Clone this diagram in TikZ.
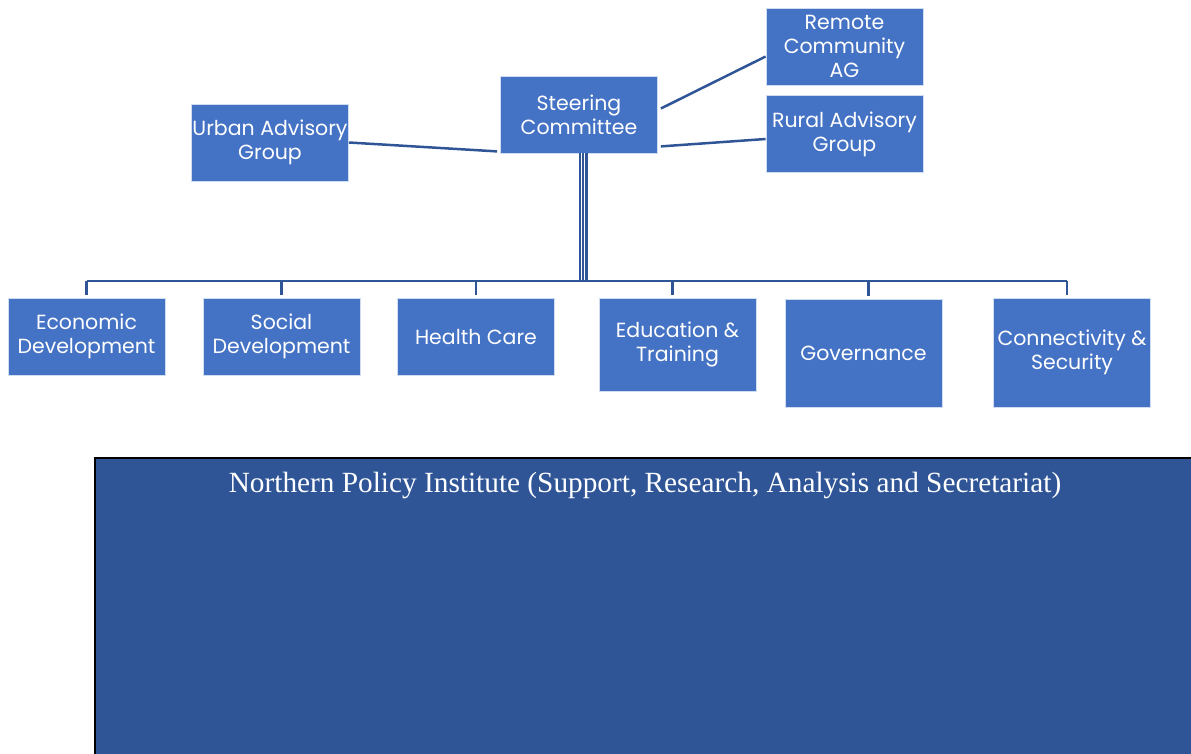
\documentclass[tikz,border=0pt]{standalone}
\usepackage{fontspec}
\setmainfont{Poppins}
\newfontfamily\npifont{Liberation Serif}
\usetikzlibrary{positioning}
\definecolor{boxblue}{HTML}{4472C4}
\definecolor{lineblue}{HTML}{2F5597}

\tikzset{
  unitbox/.style={rectangle, fill=boxblue, draw=white!75!boxblue, line width=0.8pt,
    text=white, align=center, inner sep=0pt, minimum width=157pt, minimum height=77pt,
    font=\fontsize{20.5}{24}\selectfont},
  link/.style={lineblue, line width=2.5pt},
}

\begin{document}
\begin{tikzpicture}[x=1pt, y=-1pt]
  \useasboundingbox (0,0) rectangle (1191,753);

  % Steering committee and its advisory groups
  \node[unitbox] (steer) at (579,114.5) {Steering\\Committee};
  \node[unitbox] (urban) at (270,142.5) {Urban Advisory\\Group};
  \node[unitbox] (remote) at (844.5,46.5) {Remote\\Community\\AG};
  \node[unitbox] (rural) at (844.5,134) {Rural Advisory\\Group};

  \draw[link] (urban.east) -- ([xshift=-3pt, yshift=2pt]steer.south west);
  \draw[link] ([xshift=3pt, yshift=6pt]steer.east) -- ([yshift=-10pt]remote.west);
  \draw[link] ([xshift=3pt, yshift=7pt]steer.south east) -- ([yshift=-5pt]rural.west);

  % Working groups
  \node[unitbox] (econ) at (86.5,336.5) {Economic\\Development};
  \node[unitbox] (social) at (281.5,336.5) {Social\\Development};
  \node[unitbox] (health) at (476,336.5) {Health Care};
  \node[unitbox, minimum height=93pt] (edu) at (677.5,344.5) {Education \&\\Training};
  \node[unitbox, minimum height=108pt] (gov) at (863.5,353) {Governance};
  \node[unitbox, minimum height=109pt] (conn) at (1072,352.5) {Connectivity \&\\Security};

  % Trunk from the committee down to the bus
  \coordinate (bus) at (583,281);
  \draw[lineblue, line width=9pt] (steer.south -| bus) -- (bus);
  \draw[white, line width=0.7pt] ([xshift=-1.8pt]steer.south -| bus) -- ([xshift=-1.8pt]bus);
  \draw[white, line width=0.7pt] ([xshift=1.8pt]steer.south -| bus) -- ([xshift=1.8pt]bus);
  \draw[link] (bus -| econ.north) -- ([xshift=-5pt]bus -| conn.north);
  \foreach \n/\dx in {econ/0, social/0, health/0, edu/-5, gov/5, conn/-5}
    \draw[link] ([xshift=\dx pt]bus -| \n.north) -- ([xshift=\dx pt, yshift=3pt]\n.north);

  % Institute panel
  \node[rectangle, draw=black, line width=2pt, fill=lineblue, minimum width=1100pt,
    minimum height=297pt, inner sep=0pt] (npi) at (645,606) {};
  \node[text=white, font=\npifont\fontsize{29.3}{34}\selectfont, below=12pt of npi.north] (npititle)
    {Northern Policy Institute (Support, Research, Analysis and Secretariat)};
\end{tikzpicture}
\end{document}
